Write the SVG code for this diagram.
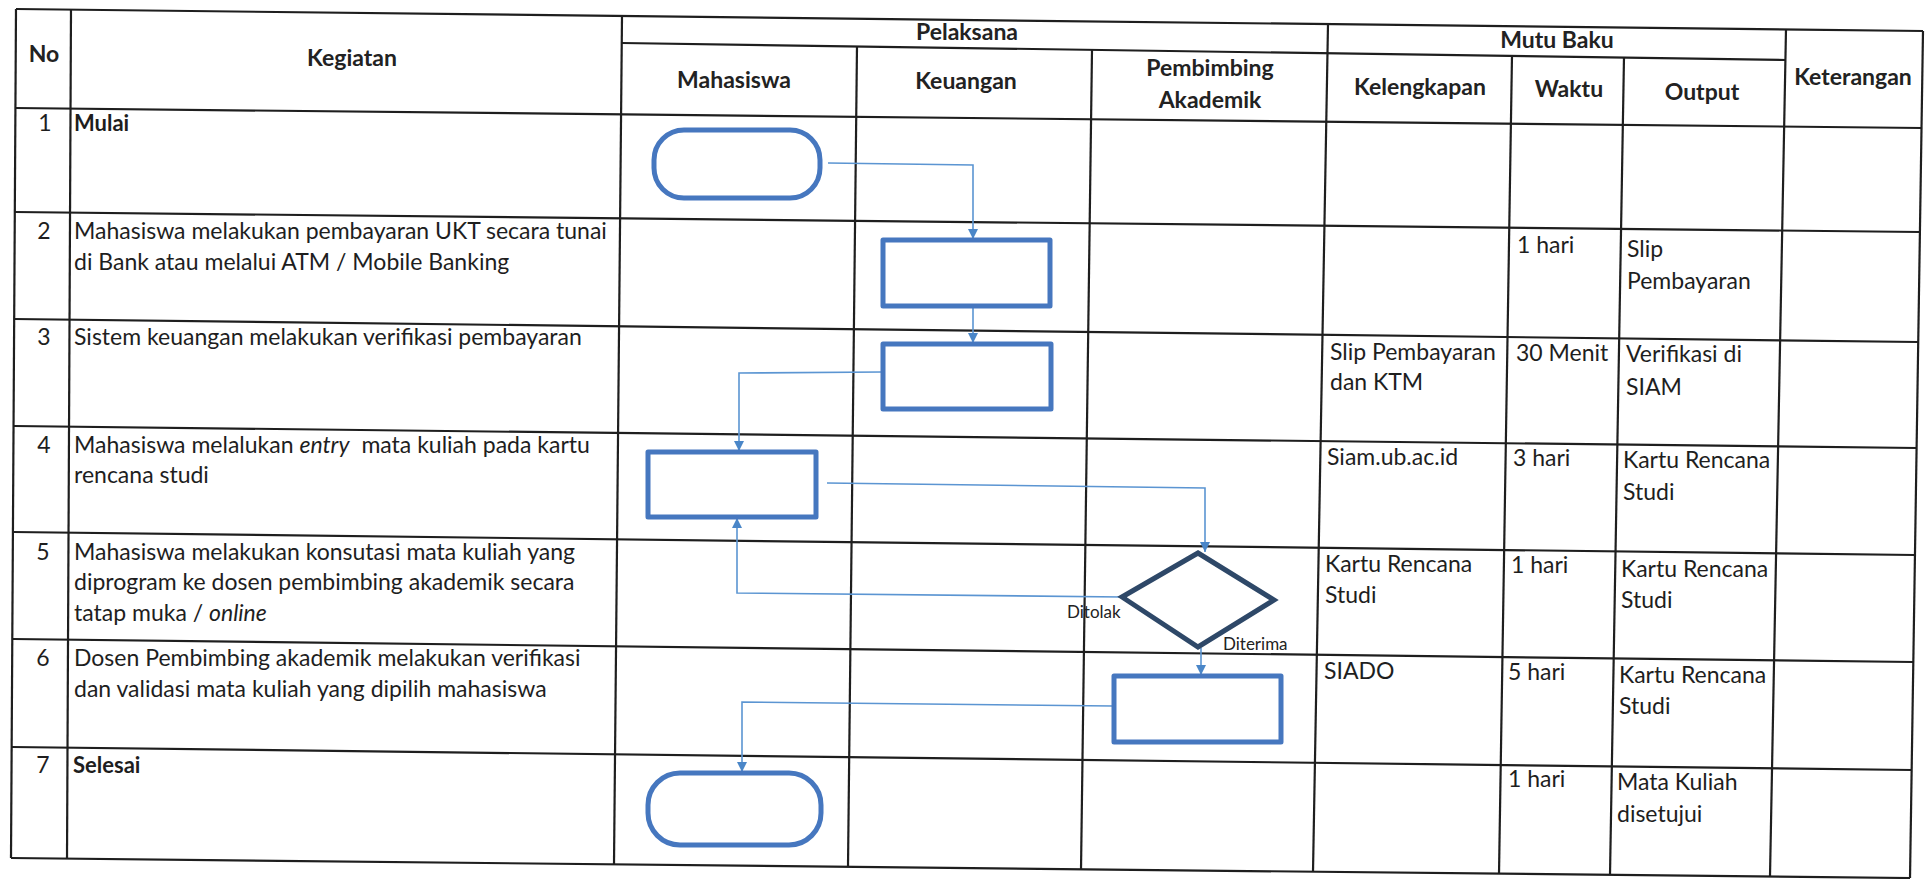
<svg xmlns="http://www.w3.org/2000/svg" width="1931" height="879" viewBox="0 0 1931 879">
<style>
.grid line{stroke:#1e1e1e;stroke-width:2.2}
.h{font-family:Lato,"Liberation Sans",sans-serif;font-weight:bold;font-size:23px;fill:#222;text-anchor:middle}
.t{font-family:Lato,"Liberation Sans",sans-serif;font-size:23px;fill:#1e1e1e}
.b{font-weight:bold;font-size:22px}
.n{text-anchor:middle}
.lbl{font-family:Lato,"Liberation Sans",sans-serif;font-size:17px;fill:#222}
.shape{fill:none;stroke:#4677bf;stroke-width:5;stroke-linejoin:round}
.dia{fill:none;stroke:#2e4868;stroke-width:5;stroke-linejoin:miter}
.con path{fill:none;stroke:#5b95d2;stroke-width:1.6}
</style>
<defs>
<marker id="arr" viewBox="0 0 10 10" refX="10" refY="5" markerWidth="10" markerHeight="10" markerUnits="userSpaceOnUse" orient="auto">
<path d="M0,0 L10,5 L0,10 z" fill="#4a86c8"/>
</marker>
</defs>
<rect width="1931" height="879" fill="#fff"/>
<g id="table" class="grid">
<line x1="16" y1="9" x2="1923" y2="31"/>
<line x1="622" y1="43" x2="1786" y2="60"/>
<line x1="15" y1="108" x2="1922" y2="128"/>
<line x1="15" y1="212" x2="1920" y2="232"/>
<line x1="14" y1="319" x2="1918" y2="342"/>
<line x1="14" y1="426" x2="1917" y2="448"/>
<line x1="13" y1="532" x2="1915" y2="555"/>
<line x1="13" y1="639" x2="1913" y2="662"/>
<line x1="12" y1="747" x2="1912" y2="770"/>
<line x1="11" y1="858" x2="1910" y2="878"/>
<line x1="16" y1="9" x2="11" y2="858"/>
<line x1="71" y1="9" x2="67" y2="858"/>
<line x1="622" y1="16" x2="614" y2="864"/>
<line x1="857" y1="46" x2="848" y2="866"/>
<line x1="1092" y1="50" x2="1081" y2="870"/>
<line x1="1328" y1="24" x2="1313" y2="872"/>
<line x1="1512" y1="55" x2="1499" y2="874"/>
<line x1="1624" y1="57" x2="1610" y2="875"/>
<line x1="1786" y1="29" x2="1770" y2="876"/>
<line x1="1923" y1="31" x2="1910" y2="878"/>
</g>
<g id="headers">
<text class="h" x="44" y="62">No</text>
<text class="h" x="352" y="66">Kegiatan</text>
<text class="h" x="967" y="40">Pelaksana</text>
<text class="h" x="734" y="88">Mahasiswa</text>
<text class="h" x="966" y="89">Keuangan</text>
<text class="h" x="1210" y="76">Pembimbing</text>
<text class="h" x="1210" y="108">Akademik</text>
<text class="h" x="1557" y="48">Mutu Baku</text>
<text class="h" x="1420" y="95">Kelengkapan</text>
<text class="h" x="1569" y="97">Waktu</text>
<text class="h" x="1702" y="100">Output</text>
<text class="h" x="1853" y="85">Keterangan</text>
</g>
<g id="row1">
<text class="t n" x="45" y="131">1</text>
<text class="t b" x="74" y="131">Mulai</text>
</g>
<g id="row2">
<text class="t n" x="44" y="239">2</text>
<text class="t" x="74" y="239">Mahasiswa melakukan pembayaran UKT secara tunai</text>
<text class="t" x="74" y="270">di Bank atau melalui ATM / Mobile Banking</text>
<text class="t" x="1517" y="253">1 hari</text>
<text class="t" x="1627" y="257">Slip</text>
<text class="t" x="1627" y="289">Pembayaran</text>
</g>
<g id="row3">
<text class="t n" x="44" y="345">3</text>
<text class="t" x="74" y="345">Sistem keuangan melakukan verifikasi pembayaran</text>
<text class="t" x="1330" y="360">Slip Pembayaran</text>
<text class="t" x="1330" y="390">dan KTM</text>
<text class="t" x="1516" y="361">30 Menit</text>
<text class="t" x="1626" y="362">Verifikasi di</text>
<text class="t" x="1626" y="395">SIAM</text>
</g>
<g id="row4">
<text class="t n" x="44" y="453">4</text>
<text class="t" x="74" y="453">Mahasiswa melalukan <tspan font-style="italic">entry</tspan><tspan dx="6"> mata kuliah pada kartu</tspan></text>
<text class="t" x="74" y="483">rencana studi</text>
<text class="t" x="1327" y="465">Siam.ub.ac.id</text>
<text class="t" x="1513" y="466">3 hari</text>
<text class="t" x="1623" y="468">Kartu Rencana</text>
<text class="t" x="1623" y="500">Studi</text>
</g>
<g id="row5">
<text class="t n" x="43" y="560">5</text>
<text class="t" x="74" y="560">Mahasiswa melakukan konsutasi mata kuliah yang</text>
<text class="t" x="74" y="590">diprogram ke dosen pembimbing akademik secara</text>
<text class="t" x="74" y="621">tatap muka / <tspan font-style="italic">online</tspan></text>
<text class="t" x="1325" y="572">Kartu Rencana</text>
<text class="t" x="1325" y="603">Studi</text>
<text class="t" x="1511" y="573">1 hari</text>
<text class="t" x="1621" y="577">Kartu Rencana</text>
<text class="t" x="1621" y="608">Studi</text>
</g>
<g id="row6">
<text class="t n" x="43" y="666">6</text>
<text class="t" x="74" y="666">Dosen Pembimbing akademik melakukan verifikasi</text>
<text class="t" x="74" y="697">dan validasi mata kuliah yang dipilih mahasiswa</text>
<text class="t" x="1324" y="679">SIADO</text>
<text class="t" x="1508" y="680">5 hari</text>
<text class="t" x="1619" y="683">Kartu Rencana</text>
<text class="t" x="1619" y="714">Studi</text>
</g>
<g id="row7">
<text class="t n" x="43" y="773">7</text>
<text class="t b" x="73" y="773">Selesai</text>
<text class="t" x="1508" y="787">1 hari</text>
<text class="t" x="1617" y="790">Mata Kuliah</text>
<text class="t" x="1617" y="822">disetujui</text>
</g>
<g id="connectors" class="con">
<path d="M828,163 L973,165 L973,239" marker-end="url(#arr)"/>
<path d="M973,306 L973,343" marker-end="url(#arr)"/>
<path d="M882,372 L739,373 L739,451" marker-end="url(#arr)"/>
<path d="M827,483 L1205,488 L1205,552" marker-end="url(#arr)"/>
<path d="M1122,597 L737,593 L737,518" marker-end="url(#arr)"/>
<path d="M1201,648 L1201,675" marker-end="url(#arr)"/>
<path d="M1113,706 L742,702 L742,772" marker-end="url(#arr)"/>
</g>
<g id="start"><rect class="shape" x="654" y="130" width="166" height="68" rx="30"/></g>
<g id="pay"><rect class="shape" x="883" y="240" width="167" height="66"/></g>
<g id="verify"><rect class="shape" x="883" y="344" width="168" height="65"/></g>
<g id="entry"><rect class="shape" x="648" y="452" width="168" height="65"/></g>
<g id="decision"><polygon class="dia" points="1198,553 1274,600 1198,647 1122,597"/></g>
<g id="validate"><rect class="shape" x="1114" y="676" width="167" height="66"/></g>
<g id="end"><rect class="shape" x="648" y="773" width="173" height="72" rx="32"/></g>
<g id="labels">
<text class="lbl" x="1067" y="618">Ditolak</text>
<text class="lbl" x="1223" y="650">Diterima</text>
</g>
</svg>
